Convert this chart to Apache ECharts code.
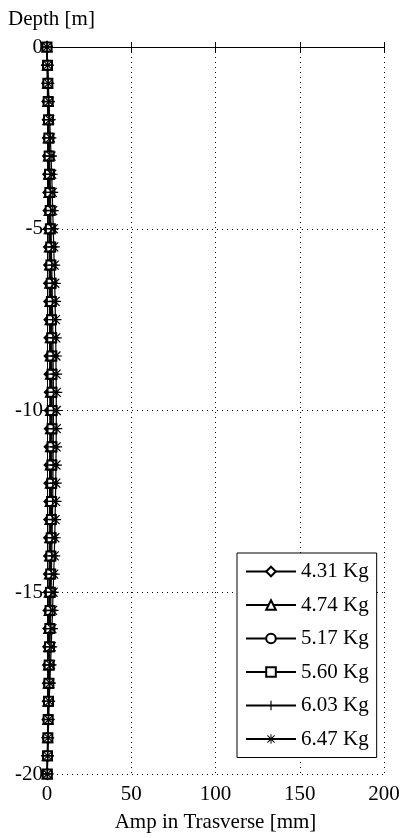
<!DOCTYPE html>
<html>
<head>
<meta charset="utf-8">
<script src="https://cdn.jsdelivr.net/npm/echarts@6/dist/echarts.min.js"></script>
<style>
html,body{margin:0;padding:0;background:#fff;}
#c{width:403px;height:838px;}
</style>
</head>
<body>
<div id="c"></div>
<script>
// Depth points [m]
const depth = [0,-0.5,-1,-1.5,-2,-2.5,-3,-3.5,-4,-4.5,-5,-5.5,-6,-6.5,-7,-7.5,-8,-8.5,-9,-9.5,-10,-10.5,-11,-11.5,-12,-12.5,-13,-13.5,-14,-14.5,-15,-15.5,-16,-16.5,-17,-17.5,-18,-18.5,-19,-19.5,-20];
// Amplitude in transverse [mm] for each mass
const seriesNames = ['4.31 Kg','4.74 Kg','5.17 Kg','5.60 Kg','6.03 Kg','6.47 Kg'];
const amp431 = [0,0.1,0.2,0.3,0.5,0.6,0.7,0.8,0.9,1.0,1.1,1.2,1.3,1.3,1.4,1.5,1.5,1.6,1.6,1.7,1.7,1.7,1.6,1.6,1.5,1.5,1.4,1.3,1.3,1.2,1.1,1.0,0.9,0.8,0.7,0.6,0.5,0.4,0.3,0.2,0.1];
const amp474 = [0,0.2,0.3,0.5,0.6,0.8,0.9,1.0,1.2,1.3,1.4,1.5,1.6,1.7,1.8,1.9,2.0,2.0,2.1,2.1,2.2,2.1,2.1,2.0,2.0,1.9,1.8,1.7,1.6,1.5,1.4,1.3,1.1,1.0,0.9,0.8,0.6,0.5,0.4,0.2,0.1];
const amp517 = [0,0.2,0.4,0.6,0.8,0.9,1.1,1.3,1.4,1.6,1.7,1.8,2.0,2.1,2.2,2.3,2.4,2.5,2.5,2.6,2.6,2.6,2.5,2.5,2.4,2.3,2.2,2.1,2.0,1.8,1.7,1.5,1.4,1.2,1.1,0.9,0.8,0.6,0.4,0.3,0.1];
const amp560 = [0,0.3,0.5,0.7,0.9,1.1,1.3,1.5,1.7,1.9,2.0,2.2,2.3,2.5,2.6,2.7,2.8,2.9,3.0,3.0,3.1,3.0,3.0,2.9,2.8,2.7,2.6,2.5,2.3,2.2,2.0,1.8,1.7,1.5,1.3,1.1,0.9,0.7,0.5,0.3,0.2];
const amp603 = [0,0.3,0.6,0.8,1.1,1.3,1.5,1.8,2.0,2.2,2.4,2.6,2.8,3.0,3.2,3.4,3.5,3.6,3.7,3.8,3.8,3.8,3.7,3.6,3.5,3.4,3.2,3.0,2.8,2.6,2.4,2.2,2.0,1.7,1.5,1.3,1.0,0.8,0.6,0.4,0.2];
const amp647 = [0,0.4,0.8,1.2,1.6,2.0,2.4,2.8,3.1,3.4,3.7,4.0,4.3,4.6,4.8,5.0,5.2,5.3,5.4,5.5,5.5,5.5,5.4,5.3,5.2,5.0,4.8,4.6,4.3,4.0,3.6,3.3,2.9,2.5,2.1,1.7,1.3,1.0,0.7,0.4,0.2];
const xTicks = [0,50,100,150,200];
const yTicks = [0,-5,-10,-15,-20];

const amps = [amp431, amp474, amp517, amp560, amp603, amp647];
const plusPath = 'path://M-0.6,-5L0.6,-5L0.6,-0.6L5,-0.6L5,0.6L0.6,0.6L0.6,5L-0.6,5L-0.6,0.6L-5,0.6L-5,-0.6L-0.6,-0.6Z';
const starPath = 'path://M-0.5,-5L0.5,-5L0.5,-1.2L3.4,-4.1L4.1,-3.4L1.2,-0.5L5,-0.5L5,0.5L1.2,0.5L4.1,3.4L3.4,4.1L0.5,1.2L0.5,5L-0.5,5L-0.5,1.2L-3.4,4.1L-4.1,3.4L-1.2,0.5L-5,0.5L-5,-0.5L-1.2,-0.5L-4.1,-3.4L-3.4,-4.1L-0.5,-1.2Z';
const symbols = ['emptyDiamond','emptyTriangle','emptyCircle','emptyRect', plusPath, starPath];
const sizes = [10, 9, 9, 9, 12, 12];

const font = 'Liberation Serif';
const chart = echarts.init(document.getElementById('c'), null, {renderer:'canvas'});

const series = amps.map((a, i) => ({
  name: seriesNames[i],
  type: 'line',
  data: a.map((v, k) => [v, depth[k]]),
  symbol: symbols[i],
  symbolSize: sizes[i],
  showAllSymbol: true,
  clip: false,
  lineStyle: {color:'#000', width:1.2},
  itemStyle: {color: '#000', borderColor:'#000', borderWidth: i < 4 ? 1.4 : 0},
  emphasis: {disabled:true},
  animation: false
}));

chart.setOption({
  animation: false,
  backgroundColor: '#fff',
  title: {
    text: 'Depth [m]', left: 3, top: 4,
    textStyle: {fontFamily: font, fontSize: 21, fontWeight: 'normal', color: '#000'}
  },
  grid: {left: 47, right: 19, top: 47, bottom: 60, containLabel: false},
  legend: {
    orient: 'vertical',
    left: 237, top: 553,
    width: 137,
    padding: [8, 8, 8, 8],
    itemWidth: 50, itemHeight: 12,
    itemGap: 12.5,
    backgroundColor: '#fff',
    borderColor: '#000', borderWidth: 1,
    textStyle: {fontFamily: font, fontSize: 21, color: '#000'},
    data: seriesNames
  },
  xAxis: [{
    type: 'value', min: 0, max: 200, interval: 50, position: 'bottom',
    name: 'Amp in Trasverse [mm]', nameLocation: 'middle', nameGap: 38,
    nameTextStyle: {fontFamily: font, fontSize: 21, color: '#000'},
    axisLine: {show: true, lineStyle: {color: '#000', width: 1}},
    axisTick: {show: true, inside: true, length: 5, lineStyle: {color: '#000'}},
    axisLabel: {fontFamily: font, fontSize: 21, color: '#000', margin: 10,
      formatter: v => xTicks.includes(v) ? String(v) : ''},
    splitLine: {show: true, lineStyle: {color: '#000', type: [1, 4], width: 1}}
  }, {
    type: 'value', min: 0, max: 200, interval: 50, position: 'top',
    axisLine: {show: true, lineStyle: {color: '#000', width: 1}},
    axisTick: {show: true, inside: true, length: 5, lineStyle: {color: '#000'}},
    axisLabel: {show: false}, splitLine: {show: false}
  }],
  yAxis: [{
    type: 'value', min: -20, max: 0, interval: 5, position: 'left',
    axisLine: {show: true, lineStyle: {color: '#000', width: 1}},
    axisTick: {show: true, inside: true, length: 5, lineStyle: {color: '#000'}},
    axisLabel: {fontFamily: font, fontSize: 21, color: '#000', margin: 4,
      formatter: v => yTicks.includes(v) ? String(v) : ''},
    splitLine: {show: true, lineStyle: {color: '#000', type: [1, 4], width: 1}}
  }, {
    type: 'value', min: -20, max: 0, interval: 5, position: 'right',
    axisLine: {show: true, lineStyle: {color: '#000', width: 1}},
    axisTick: {show: true, inside: true, length: 5, lineStyle: {color: '#000'}},
    axisLabel: {show: false}, splitLine: {show: false}
  }],
  series: series
});
</script>
</body>
</html>
